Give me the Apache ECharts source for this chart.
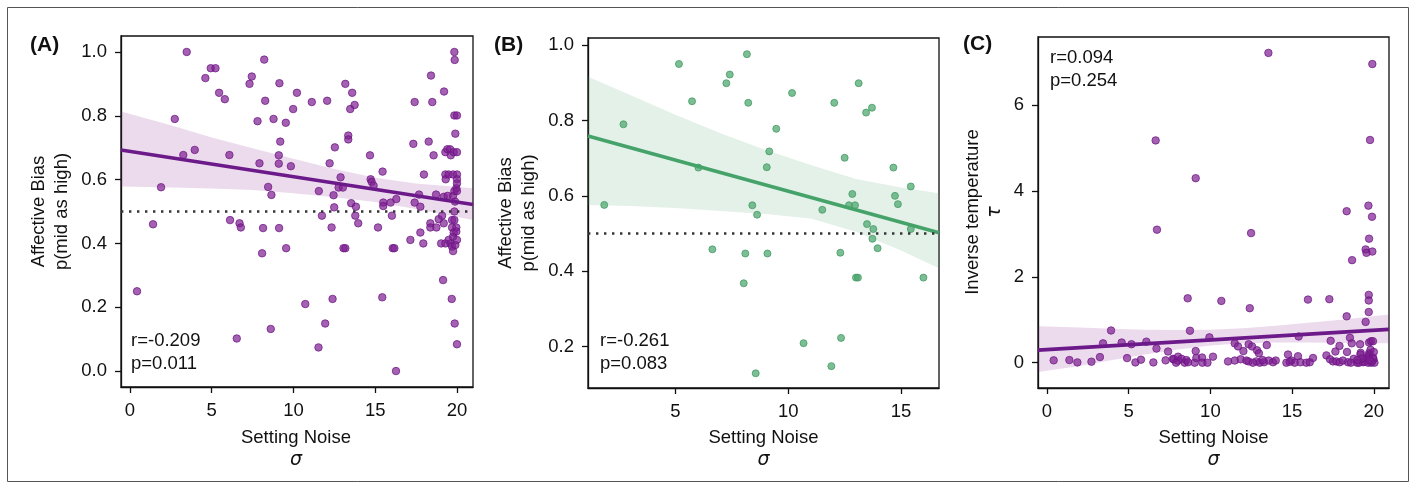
<!DOCTYPE html>
<html>
<head>
<meta charset="utf-8">
<script src="https://cdn.jsdelivr.net/npm/echarts@6/dist/echarts.min.js"></script>
<style>
  html, body { margin: 0; padding: 0; background: #fff; }
  #chart { width: 1416px; height: 489px; }
</style>
</head>
<body>
<div id="chart"></div>
<script>
// ---- Panel A: affective bias vs setting noise (all participants) ----
const pointsA = [
  [0.43,0.25],[1.41,0.46],[1.90,0.576],[2.74,0.79],[3.26,0.677],[3.47,1.0],[3.96,0.693],[4.61,0.918],
  [4.94,0.949],[5.23,0.949],[5.45,0.872],[5.80,0.852],[6.08,0.677],[6.12,0.473],[6.53,0.102],[6.70,0.463],
  [6.78,0.450],[7.31,0.90],[7.45,0.923],[7.80,0.783],[7.92,0.651],[8.08,0.369],[8.14,0.448],[8.21,0.976],
  [8.27,0.847],[8.45,0.577],[8.61,0.132],[8.65,0.552],[8.78,0.790],[9.10,0.676],[9.10,0.650],[9.12,0.448],
  [9.14,0.902],[9.19,0.719],[9.53,0.778],[9.55,0.385],[9.84,0.642],[9.98,0.821],[10.21,0.872],[10.72,0.210],
  [11.12,0.843],[11.53,0.074],[11.55,0.564],[11.74,0.487],[11.94,0.149],[12.06,0.847],[12.21,0.651],[12.33,0.450],
  [12.39,0.226],[12.45,0.551],[12.49,0.513],[12.53,0.701],[12.76,0.575],[12.88,0.607],[13.02,0.575],[13.06,0.385],
  [13.17,0.90],[13.17,0.385],[13.35,0.738],[13.35,0.726],[13.47,0.821],[13.53,0.526],[13.59,0.872],[13.74,0.834],
  [13.78,0.487],[13.82,0.515],[13.96,0.463],[14.68,0.676],[14.72,0.601],[14.78,0.593],[14.90,0.581],[15.17,0.450],
  [15.43,0.231],[15.45,0.625],[15.49,0.528],[15.49,0.517],[15.94,0.528],[16.02,0.487],[16.07,0.385],[16.17,0.385],
  [16.27,0.0],[16.29,0.539],[17.15,0.411],[17.33,0.712],[17.41,0.843],[17.41,0.528],[17.68,0.553],[17.76,0.515],
  [17.76,0.434],[17.94,0.400],[17.98,0.616],[18.27,0.719],[18.37,0.463],[18.37,0.450],[18.41,0.926],[18.49,0.843],
  [18.57,0.676],[18.72,0.553],[18.74,0.450],[18.88,0.476],[19.03,0.400],[19.09,0.487],[19.15,0.285],[19.19,0.463],
  [19.19,0.546],[19.21,0.876],[19.29,0.686],[19.29,0.616],[19.29,0.400],[19.31,0.601],[19.41,0.695],[19.43,0.549],
  [19.49,0.616],[19.49,0.411],[19.58,0.695],[19.60,0.400],[19.62,0.676],[19.68,0.226],[19.70,0.473],[19.70,0.450],
  [19.70,0.390],[19.76,0.616],[19.76,0.549],[19.76,0.421],[19.76,0.376],[19.80,0.686],[19.80,0.434],[19.84,1.0],
  [19.84,0.801],[19.84,0.564],[19.84,0.473],[19.84,0.5],[19.86,0.975],[19.86,0.149],[19.88,0.531],[19.90,0.744],
  [19.90,0.395],[19.96,0.573],[19.96,0.450],[19.96,0.437],[20.0,0.686],[20.0,0.801],[20.0,0.616],[20.0,0.601],
  [20.0,0.588],[20.0,0.564],[20.0,0.411],[20.0,0.084]
];
const fitA = [[-0.55, 0.693], [20.98, 0.522]];
const bandA_x  = [-0.55, 2.5, 5, 7.5, 10, 12.5, 15, 17.5, 20.98];
const bandA_lo = [0.578, 0.575, 0.572, 0.567, 0.557, 0.545, 0.530, 0.508, 0.473];
const bandA_hi = [0.813, 0.770, 0.732, 0.698, 0.665, 0.633, 0.606, 0.588, 0.573];
const chanceA = [[-0.55, 0.5], [20.98, 0.5]];
const statsA = 'r=-0.209\np=0.011';

// ---- Panel B: affective bias vs setting noise (subgroup) ----
const pointsB = [
  [1.85,0.576],[2.70,0.790],[5.16,0.950],[5.74,0.851],[6.02,0.675],[6.64,0.458],[7.26,0.899],[7.41,0.922],
  [8.03,0.368],[8.10,0.447],[8.17,0.976],[8.23,0.847],[8.41,0.575],[8.56,0.129],[8.62,0.550],[9.05,0.676],
  [9.08,0.447],[9.16,0.718],[9.47,0.778],[10.17,0.873],[10.68,0.209],[11.51,0.563],[11.91,0.148],[12.04,0.847],
  [12.31,0.449],[12.34,0.223],[12.50,0.701],[12.69,0.575],[12.84,0.605],[12.96,0.575],[13.00,0.383],[13.09,0.383],
  [13.12,0.899],[13.45,0.821],[13.49,0.525],[13.71,0.834],[13.73,0.486],[13.77,0.512],[13.96,0.461],[14.66,0.675],
  [14.73,0.600],[14.86,0.578],[15.43,0.625],[15.43,0.512],[15.99,0.383]
];
const fitB = [[1.13, 0.759], [16.68, 0.502]];
const bandB_x  = [1.13, 3, 5, 7, 9, 11, 13, 15, 16.68];
const bandB_lo = [0.576, 0.573, 0.568, 0.560, 0.552, 0.540, 0.505, 0.455, 0.408];
const bandB_hi = [0.916, 0.868, 0.815, 0.766, 0.722, 0.682, 0.645, 0.622, 0.607];
const chanceB = [[1.13, 0.5], [16.68, 0.5]];
const statsB = 'r=-0.261\np=0.083';

// ---- Panel C: inverse temperature vs setting noise ----
const pointsC = [
  [6.65,5.18],[13.55,7.22],[19.91,6.96],[19.77,5.19],[9.10,4.30],[18.34,3.53],[19.67,3.66],[19.89,3.40],
  [6.73,3.10],[12.49,3.02],[19.71,2.89],[19.50,2.64],[19.55,2.56],[19.91,2.59],[18.67,2.39],
  [8.61,1.50],[10.67,1.44],[12.41,1.27],[15.97,1.47],[17.28,1.48],[19.69,1.58],[19.69,1.45],[19.69,1.18],
  [18.34,1.08],[19.50,0.95],
  [0.41,0.054],[1.37,0.061],[1.86,0.007],[2.72,0.023],[3.24,0.13],[3.43,0.45],[3.92,0.75],[4.57,0.47],
  [4.90,0.107],[5.17,0.43],[5.41,0.007],[5.75,0.07],[6.08,0.49],[6.70,0.33],[6.51,0.007],[7.26,0.054],
  [7.41,0.26],[7.75,0.077],[8.02,0.047],
  [8.75,0.745],[9.94,0.59],[11.49,0.45],[11.69,0.38],[12.02,0.27],[12.34,0.43],[12.55,0.38],[12.85,0.29],
  [12.97,0.22],[13.45,0.41],[15.40,0.61],[17.36,0.51],[17.65,0.26],[17.90,0.39],[18.54,0.58],[18.65,0.45],
  [18.36,0.25],[19.16,0.43],[19.71,0.47],[19.83,0.50],[19.95,0.50],[19.20,0.23],[19.71,0.22],[9.10,0.27],
  [7.71,0.09],[8.02,0.14],[8.23,0.09],[8.43,0.0],[8.53,0.06],[8.63,0.01],[9.04,0.0],[9.14,0.11],
  [9.49,0.12],[9.51,0.0],[9.82,0.0],[10.16,0.14],[11.08,0.03],[11.49,0.05],[11.85,0.08],[12.20,0.05],
  [12.33,0.03],[12.81,0.03],[13.02,0.0],[13.28,0.01],[13.57,0.05],[13.83,0.01],[14.0,0.05],[14.65,0.0],
  [14.75,0.19],[14.96,0.05],[15.16,0.0],[15.36,0.15],[15.51,0.01],[15.87,0.0],[16.08,0.01],[16.28,0.11],
  [17.10,0.17],[17.32,0.08],[17.50,0.03],[17.71,0.03],[17.91,0.01],[18.11,0.05],[18.42,0.01],[18.77,0.09],
  [18.97,0.0],[19.18,0.19],[19.34,0.01],[19.54,0.09],[19.74,0.19],[19.84,0.0],[19.98,0.08],[20.04,0.0],
  [19.1,0.0],[19.45,0.02],[19.65,0.0],[19.9,0.03],[19.6,0.12],[19.8,0.3],[19.95,0.12],[19.3,0.1],
  [12.6,0.0],[13.2,0.06],[14.85,0.02],[7.9,0.0],[18.6,0.0],[19.0,0.06],[19.75,0.06],[20.0,0.25]
];
const fitC = [[-0.55, 0.293], [20.93, 0.776]];
const bandC_x  = [-0.55, 2, 4, 6, 8, 10, 12, 14, 16, 18, 20.93];
const bandC_lo = [-0.22, -0.08, 0.06, 0.19, 0.31, 0.40, 0.45, 0.47, 0.47, 0.46, 0.45];
const bandC_hi = [0.85, 0.82, 0.79, 0.77, 0.76, 0.77, 0.80, 0.86, 0.93, 1.00, 1.12];
const statsC = 'r=0.094\np=0.254';

// ---- Tick values ----
const ticksX_AC = [0, 5, 10, 15, 20];
const ticksX_B = [5, 10, 15];
const ticksY_A = [0, 0.2, 0.4, 0.6, 0.8, 1.0];
const ticksY_B = [0.2, 0.4, 0.6, 0.8, 1.0];
const ticksY_C = [0, 2, 4, 6];

// ---- Styling ----
const FONT = '"Liberation Sans", Arial, Helvetica, sans-serif';
const FS = 18.5;
const INK = '#111';
const PURPLE = '#6c1a8a';
const PURPLE_PT = 'rgba(126,30,146,0.88)';
const PURPLE_EDGE = 'rgba(108,20,132,0.9)';
const PURPLE_BAND = 'rgba(128,32,146,0.16)';
const GREEN = '#45a36a';
const GREEN_PT = 'rgba(74,166,108,0.9)';
const GREEN_EDGE = 'rgba(60,148,94,0.9)';
const GREEN_BAND = 'rgba(78,170,113,0.16)';

const grids = [
  { left: 121, top: 36, width: 352, height: 351 },
  { left: 588, top: 38, width: 351, height: 350 },
  { left: 1038, top: 37, width: 351, height: 351 }
];
const xRanges = [[-0.55, 20.98], [1.13, 16.68], [-0.55, 20.93]];
const yRanges = [[-0.05, 1.05], [0.09, 1.019], [-0.59, 7.59]];

function xAxis(i, ticks) {
  return {
    gridIndex: i, type: 'value', min: xRanges[i][0], max: xRanges[i][1],
    axisLine: { show: true, onZero: false, lineStyle: { color: INK, width: 1.3 } },
    axisTick: { show: true, inside: false, length: 6, customValues: ticks, lineStyle: { color: INK, width: 1.3 } },
    axisLabel: { customValues: ticks, margin: 14, fontSize: FS, fontFamily: FONT, color: INK,
                 formatter: v => String(Math.round(v)) },
    splitLine: { show: false }
  };
}
function yAxis(i, ticks, digits) {
  return {
    gridIndex: i, type: 'value', min: yRanges[i][0], max: yRanges[i][1],
    axisLine: { show: true, onZero: false, lineStyle: { color: INK, width: 1.3 } },
    axisTick: { show: true, inside: false, length: 6, customValues: ticks, lineStyle: { color: INK, width: 1.3 } },
    axisLabel: { customValues: ticks, margin: 14, fontSize: FS, fontFamily: FONT, color: INK,
                 formatter: v => v.toFixed(digits) },
    splitLine: { show: false }
  };
}

function scatter(i, pts, fill, edge, size) {
  return {
    type: 'scatter', xAxisIndex: i, yAxisIndex: i, data: pts, symbolSize: size, z: 2,
    itemStyle: { color: fill, borderColor: edge, borderWidth: 1 }, silent: true
  };
}
function band(i, xs, lo, hi, fill) {
  return {
    type: 'custom', xAxisIndex: i, yAxisIndex: i, clip: true, silent: true, z: 3,
    data: xs.map((x, k) => [x, lo[k], hi[k]]),
    encode: { x: 0, y: [1, 2] },
    renderItem: function (params, api) {
      if (params.dataIndex !== 0) return null;
      const poly = [];
      for (let k = 0; k < xs.length; k++) poly.push(api.coord([xs[k], hi[k]]));
      for (let k = xs.length - 1; k >= 0; k--) poly.push(api.coord([xs[k], lo[k]]));
      return { type: 'polygon', shape: { points: poly }, style: { fill: fill, stroke: null } };
    }
  };
}
function fitLine(i, pts, color) {
  return {
    type: 'line', xAxisIndex: i, yAxisIndex: i, data: pts, symbol: 'none', z: 4, silent: true,
    lineStyle: { color: color, width: 3.6 }
  };
}
function chanceLine(i, pts) {
  return {
    type: 'line', xAxisIndex: i, yAxisIndex: i, data: pts, symbol: 'none', z: 5, silent: true,
    lineStyle: { color: '#333', width: 2.4, type: [2.4, 5.6] }
  };
}

function yTitle(x, y, text) {
  return {
    type: 'text', x: x, y: y, rotation: Math.PI / 2, silent: true,
    style: {
      text: text, fontSize: FS, fontFamily: FONT, fill: INK, lineHeight: 23,
      align: 'center', verticalAlign: 'middle', textAlign: 'center', textVerticalAlign: 'middle',
      rich: {
        a: { fontSize: FS, fontFamily: FONT, fill: INK, lineHeight: 23 },
        m: { fontSize: 19, fontFamily: '"DejaVu Sans", sans-serif', fontStyle: 'italic', fill: INK, lineHeight: 23 }
      }
    }
  };
}
function xTitle(x, y) {
  return {
    type: 'text', x: x, y: y, silent: true,
    style: {
      text: '{a|Setting Noise}\n{m|σ}', fill: INK,
      align: 'center', verticalAlign: 'top', textAlign: 'center', textVerticalAlign: 'top',
      rich: {
        a: { fontSize: FS, fontFamily: FONT, fill: INK, lineHeight: 23, align: 'center' },
        m: { fontSize: 19, fontFamily: '"DejaVu Sans", sans-serif', fontStyle: 'italic', fill: INK, lineHeight: 23, align: 'center' }
      }
    }
  };
}
function stats(x, y, text) {
  return {
    type: 'text', x: x, y: y, silent: true,
    style: { text: text, fontSize: FS, fontFamily: FONT, fill: INK, lineHeight: 23.5,
             align: 'left', verticalAlign: 'top', textAlign: 'left', textVerticalAlign: 'top' }
  };
}
function panelTag(x, y, text) {
  return {
    type: 'text', x: x, y: y, silent: true,
    style: { text: text, fontSize: 21, fontWeight: 'bold', fontFamily: FONT, fill: INK,
             align: 'left', verticalAlign: 'middle', textAlign: 'left', textVerticalAlign: 'middle' }
  };
}

const chart = echarts.init(document.getElementById('chart'), null, { renderer: 'canvas' });
chart.setOption({
  animation: false,
  backgroundColor: '#fff',
  grid: grids.map(g => Object.assign({ show: true, borderColor: INK, borderWidth: 1.3,
                                       backgroundColor: 'transparent', containLabel: false,
                                       outerBoundsMode: 'none' }, g)),
  xAxis: [xAxis(0, ticksX_AC), xAxis(1, ticksX_B), xAxis(2, ticksX_AC)],
  yAxis: [yAxis(0, ticksY_A, 1), yAxis(1, ticksY_B, 1), yAxis(2, ticksY_C, 0)],
  series: [
    scatter(0, pointsA, PURPLE_PT, PURPLE_EDGE, 7.5),
    band(0, bandA_x, bandA_lo, bandA_hi, PURPLE_BAND),
    fitLine(0, fitA, PURPLE),
    chanceLine(0, chanceA),

    scatter(1, pointsB, GREEN_PT, GREEN_EDGE, 7),
    band(1, bandB_x, bandB_lo, bandB_hi, GREEN_BAND),
    fitLine(1, fitB, GREEN),
    chanceLine(1, chanceB),

    scatter(2, pointsC, PURPLE_PT, PURPLE_EDGE, 7.5),
    band(2, bandC_x, bandC_lo, bandC_hi, PURPLE_BAND),
    fitLine(2, fitC, PURPLE)
  ],
  graphic: [
    { type: 'rect', silent: true, shape: { x: 7.5, y: 7.5, width: 1401, height: 474 },
      style: { fill: null, stroke: '#555', lineWidth: 1 } },
    panelTag(30, 45, '(A)'),
    panelTag(494, 45, '(B)'),
    panelTag(963, 44, '(C)'),
    yTitle(50, 211.5, '{a|Affective Bias}\n{a|p(mid as high)}'),
    yTitle(517, 213, '{a|Affective Bias}\n{a|p(mid as high)}'),
    yTitle(984, 212, '{a|Inverse temperature}\n{m|τ}'),
    xTitle(296, 426),
    xTitle(763.5, 426),
    xTitle(1213.5, 426),
    stats(131, 329, statsA),
    stats(600, 329, statsB),
    stats(1050, 46, statsC)
  ]
});
</script>
</body>
</html>
